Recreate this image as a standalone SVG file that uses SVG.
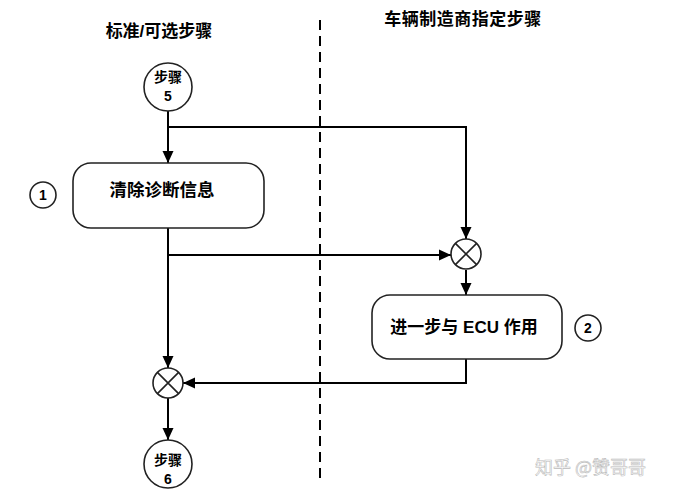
<svg xmlns="http://www.w3.org/2000/svg" width="674" height="503" viewBox="0 0 674 503">
<style>
.t{font-family:"Liberation Sans","Noto Sans CJK SC",sans-serif;font-weight:bold;fill:#000;text-anchor:middle}
.ln{fill:none;stroke:#000;stroke-width:2}
.node{fill:#fff;stroke:#222;stroke-width:1.6}
.xc{fill:#fff;stroke:#222;stroke-width:1.6}
</style>
<defs>
<marker id="ah" viewBox="0 0 12 12" refX="12" refY="6" markerWidth="12" markerHeight="12" markerUnits="userSpaceOnUse" orient="auto">
<path d="M0,0.5 L12,6 L0,11.5 z" fill="#000"/>
</marker>
</defs>
<rect width="674" height="503" fill="#fff"/>
<text class="t" x="159" y="37" font-size="17">标准/可选步骤</text>
<text class="t" x="463" y="25" font-size="17" letter-spacing="0.5">车辆制造商指定步骤</text>
<line x1="320" y1="20" x2="320" y2="481" stroke="#000" stroke-width="2" stroke-dasharray="10,6"/>
<g id="connectors">
<path class="ln" d="M168,111 V163" marker-end="url(#ah)"/>
<path class="ln" d="M168,127 H466 V239" marker-end="url(#ah)"/>
<path class="ln" d="M168,228 V368" marker-end="url(#ah)"/>
<path class="ln" d="M168,255 H451" marker-end="url(#ah)"/>
<path class="ln" d="M466,270 V295" marker-end="url(#ah)"/>
<path class="ln" d="M466,359 V383 H183" marker-end="url(#ah)"/>
<path class="ln" d="M168,398 V440" marker-end="url(#ah)"/>
</g>
<g id="step5">
<circle class="node" cx="168" cy="87" r="24"/>
<text class="t" x="168" y="82" font-size="14">步骤</text>
<text class="t" x="168" y="101" font-size="14">5</text>
</g>
<g id="box1">
<rect class="node" x="73" y="163" width="191" height="65" rx="18"/>
<text class="t" x="162" y="196" font-size="17.5">清除诊断信息</text>
</g>
<g id="label1">
<circle class="node" cx="43" cy="195" r="13"/>
<text class="t" x="43" y="200" font-size="14">1</text>
</g>
<g id="merge1">
<circle class="xc" cx="466" cy="254" r="15"/>
<path d="M455.4,243.4 L476.6,264.6 M476.6,243.4 L455.4,264.6" stroke="#222" stroke-width="1.6"/>
</g>
<g id="box2">
<rect class="node" x="372" y="295" width="190" height="64" rx="18"/>
<text class="t" x="464" y="333" font-size="17">进一步与 ECU 作用</text>
</g>
<g id="label2">
<circle class="node" cx="588" cy="328" r="13"/>
<text class="t" x="588" y="333" font-size="14">2</text>
</g>
<g id="merge2">
<circle class="xc" cx="168" cy="383" r="15"/>
<path d="M157.4,372.4 L178.6,393.6 M178.6,372.4 L157.4,393.6" stroke="#222" stroke-width="1.6"/>
</g>
<g id="step6">
<circle class="node" cx="168" cy="464" r="24"/>
<text class="t" x="168" y="465" font-size="14">步骤</text>
<text class="t" x="168" y="484" font-size="14">6</text>
</g>
<text x="535" y="474" font-family="Noto Sans CJK SC,sans-serif" font-size="18" fill="#fff" stroke="#bbb" stroke-width="0.6">知乎 @赞哥哥</text>
</svg>
